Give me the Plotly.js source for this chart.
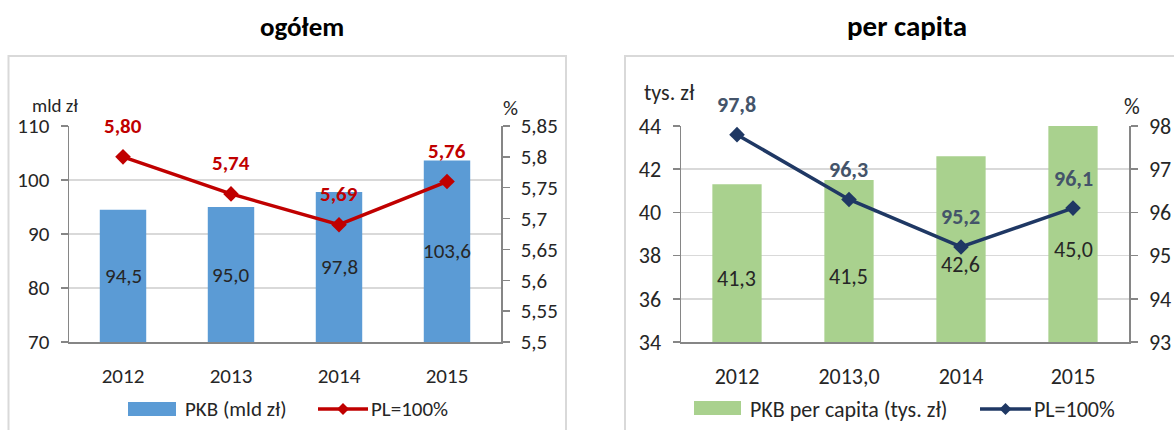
<!DOCTYPE html>
<html>
<head>
<meta charset="utf-8">
<script src="https://cdn.plot.ly/plotly-3.0.1.min.js"></script>
<style>html,body{margin:0;padding:0;background:#fff;}#chart{width:1174px;height:430px;}</style>
</head>
<body>
<div id="chart"></div>
<script>
// ---- data ----
const yearsTotal = ['2012', '2013', '2014', '2015'];
const gdpTotal = [94.5, 95.0, 97.8, 103.6];          // mld zł
const gdpTotalPL = [5.80, 5.74, 5.69, 5.76];         // % of Poland
const yearsPerCapita = ['2012', '2013,0', '2014', '2015'];
const gdpPerCapita = [41.3, 41.5, 42.6, 45.0];       // tys. zł
const gdpPerCapitaPL = [97.8, 96.3, 95.2, 96.1];     // PL = 100

const totalTicks = [70, 80, 90, 100, 110];
const totalPctTicks = [5.5, 5.55, 5.6, 5.65, 5.7, 5.75, 5.8, 5.85];
const totalPctTickText = ['5,5', '5,55', '5,6', '5,65', '5,7', '5,75', '5,8', '5,85'];
const pcTicks = [34, 36, 38, 40, 42, 44];
const pcPctTicks = [93, 94, 95, 96, 97, 98];

const titles = ['ogółem', 'per capita'];
const unitLabels = ['mld zł', '%', 'tys. zł', '%'];
const legendLabels = ['PKB (mld zł)', 'PL=100%', 'PKB per capita (tys. zł)', 'PL=100%'];

// ---- layout helpers ----
const W = 1174, H = 430;
const px = x => x / W;
const py = y => 1 - y / H;
const FONT = 'Calibri, Carlito, Lato, sans-serif';
const FS = 21;    // left chart text size
const FS2 = 22;   // right chart text size
const TXT = '#262626';
const GRID = '#D9D9D9';
const AX = '#868686';
const BLUE = '#5B9BD5', RED = '#C00000';
const GREEN = '#A9D18E', NAVY = '#1F3864', SLATE = '#44546A';

const comma = (v, d) => v.toFixed(d).replace('.', ',');

const yRange1 = [70, 110], y2Range = [5.5, 5.85];
const yRange3 = [34, 44], y4Range = [93, 98];

const traces = [
  { type: 'bar', x: yearsTotal, y: gdpTotal, xaxis: 'x', yaxis: 'y',
    marker: { color: BLUE }, width: 0.43, showlegend: false, hoverinfo: 'skip' },
  { type: 'scatter', mode: 'lines+markers', x: yearsTotal, y: gdpTotalPL, xaxis: 'x', yaxis: 'y2',
    line: { color: RED, width: 3.5 }, marker: { symbol: 'diamond', size: 12, color: RED },
    showlegend: false, hoverinfo: 'skip' },
  { type: 'bar', x: yearsPerCapita, y: gdpPerCapita, xaxis: 'x2', yaxis: 'y3',
    marker: { color: GREEN }, width: 0.44, showlegend: false, hoverinfo: 'skip' },
  { type: 'scatter', mode: 'lines+markers', x: yearsPerCapita, y: gdpPerCapitaPL, xaxis: 'x2', yaxis: 'y4',
    line: { color: NAVY, width: 3.5 }, marker: { symbol: 'diamond', size: 12, color: NAVY },
    showlegend: false, hoverinfo: 'skip' }
];

const dom1x = [px(69), px(501)];
const dom2x = [px(681), px(1129)];
const domY = [py(342), py(126)];

const baseY = (fs) => ({
  showgrid: true, gridcolor: GRID, gridwidth: 1.5,
  showline: true, linecolor: AX, linewidth: 1.5,
  ticks: 'outside', ticklen: 7, tickcolor: AX, tickwidth: 1.5,
  tickfont: { family: FONT, size: fs, color: TXT }, zeroline: false, fixedrange: true, ticklabelstandoff: 7
});
const baseX = (fs) => ({
  type: 'category', range: [-0.5, 3.5], showline: true, linecolor: AX, linewidth: 1.5,
  ticks: '', tickfont: { family: FONT, size: fs, color: TXT }, showgrid: false, zeroline: false, fixedrange: true,
  ticklabelstandoff: 14
});

const annotations = [];
// chart titles
[[302, titles[0], 27], [907, titles[1], 29]].forEach(([x, t, s]) => annotations.push({
  xref: 'paper', yref: 'paper', x: px(x), y: py(26), xanchor: 'center', yanchor: 'middle',
  text: '<b>' + t + '</b>', showarrow: false, font: { family: FONT, size: s, color: '#000' }
}));
// unit labels
[[55, 105, unitLabels[0], 19], [510, 108, unitLabels[1], FS], [669, 92, unitLabels[2], FS2], [1132, 107, unitLabels[3], FS2]]
  .forEach(([x, y, t, s]) => annotations.push({
    xref: 'paper', yref: 'paper', x: px(x), y: py(y), xanchor: 'center', yanchor: 'middle',
    text: t, showarrow: false, font: { family: FONT, size: s, color: TXT }
  }));
// bar value labels (x given as category index, centred in visible part of bar)
gdpTotal.forEach((v, i) => annotations.push({
  xref: 'x', yref: 'y', x: i, y: (yRange1[0] + Math.min(v, yRange1[1])) / 2, yanchor: 'middle',
  text: comma(v, 1), showarrow: false, font: { family: FONT, size: FS, color: TXT }
}));
gdpPerCapita.forEach((v, i) => annotations.push({
  xref: 'x2', yref: 'y3', x: i, y: (yRange3[0] + Math.min(v, yRange3[1])) / 2, yshift: -15, yanchor: 'middle',
  text: comma(v, 1), showarrow: false, font: { family: FONT, size: FS2, color: TXT }
}));
// line value labels
gdpTotalPL.forEach((v, i) => annotations.push({
  xref: 'x', yref: 'y2', x: i, y: v, yshift: 31, yanchor: 'middle',
  text: '<b>' + comma(v, 2) + '</b>', showarrow: false, font: { family: FONT, size: FS, color: RED }
}));
gdpPerCapitaPL.forEach((v, i) => annotations.push({
  xref: 'x2', yref: 'y4', x: i, y: v, yshift: 30, yanchor: 'middle',
  text: '<b>' + comma(v, 1) + '</b>', showarrow: false, font: { family: FONT, size: FS2, color: SLATE }
}));
// legend texts
[[183, legendLabels[0], FS], [369, legendLabels[1], FS], [748, legendLabels[2], FS2], [1032, legendLabels[3], FS2]]
  .forEach(([x, t, s]) => annotations.push({
    xref: 'paper', yref: 'paper', x: px(x), y: py(409), xanchor: 'left', yanchor: 'middle',
    text: t, showarrow: false, font: { family: FONT, size: s, color: TXT }
  }));

const diamond = (cx, cy, r) =>
  `M ${px(cx)},${py(cy - r)} L ${px(cx + r)},${py(cy)} L ${px(cx)},${py(cy + r)} L ${px(cx - r)},${py(cy)} Z`;

const shapes = [
  // chart frames
  { type: 'rect', xref: 'paper', yref: 'paper', x0: px(8.5), x1: px(566), y0: py(445), y1: py(56),
    line: { color: GRID, width: 2 }, fillcolor: 'rgba(0,0,0,0)', layer: 'below' },
  { type: 'rect', xref: 'paper', yref: 'paper', x0: px(625), x1: px(1185), y0: py(445), y1: py(56),
    line: { color: GRID, width: 2 }, fillcolor: 'rgba(0,0,0,0)', layer: 'below' },
  // legend swatches
  { type: 'rect', xref: 'paper', yref: 'paper', x0: px(128), x1: px(176), y0: py(416), y1: py(402),
    line: { width: 0 }, fillcolor: BLUE },
  { type: 'line', xref: 'paper', yref: 'paper', x0: px(318), x1: px(368), y0: py(409), y1: py(409),
    line: { color: RED, width: 3.5 } },
  { type: 'path', xref: 'paper', yref: 'paper', path: diamond(343, 409, 6), fillcolor: RED, line: { width: 0 } },
  { type: 'rect', xref: 'paper', yref: 'paper', x0: px(694), x1: px(741), y0: py(415), y1: py(401),
    line: { width: 0 }, fillcolor: GREEN },
  { type: 'line', xref: 'paper', yref: 'paper', x0: px(980), x1: px(1031), y0: py(409), y1: py(409),
    line: { color: NAVY, width: 3.5 } },
  { type: 'path', xref: 'paper', yref: 'paper', path: diamond(1005.5, 409, 6), fillcolor: NAVY, line: { width: 0 } }
];

const layout = {
  width: W, height: H, margin: { l: 0, r: 0, t: 0, b: 0 },
  paper_bgcolor: '#fff', plot_bgcolor: 'rgba(0,0,0,0)',
  showlegend: false,
  font: { family: FONT, color: TXT },
  xaxis: Object.assign(baseX(FS), { domain: dom1x, anchor: 'y' }),
  yaxis: Object.assign(baseY(FS), { domain: domY, anchor: 'x', range: yRange1, tickvals: totalTicks }),
  yaxis2: Object.assign(baseY(FS), { overlaying: 'y', side: 'right', anchor: 'x', range: y2Range,
    tickvals: totalPctTicks, ticktext: totalPctTickText, showgrid: false }),
  xaxis2: Object.assign(baseX(FS2), { domain: dom2x, anchor: 'y3' }),
  yaxis3: Object.assign(baseY(FS2), { domain: domY, anchor: 'x2', range: yRange3, tickvals: pcTicks }),
  yaxis4: Object.assign(baseY(FS2), { overlaying: 'y3', side: 'right', anchor: 'x2', range: y4Range,
    tickvals: pcPctTicks, showgrid: false }),
  annotations: annotations,
  shapes: shapes
};

Plotly.newPlot('chart', traces, layout, { staticPlot: true, displayModeBar: false });
</script>
</body>
</html>
